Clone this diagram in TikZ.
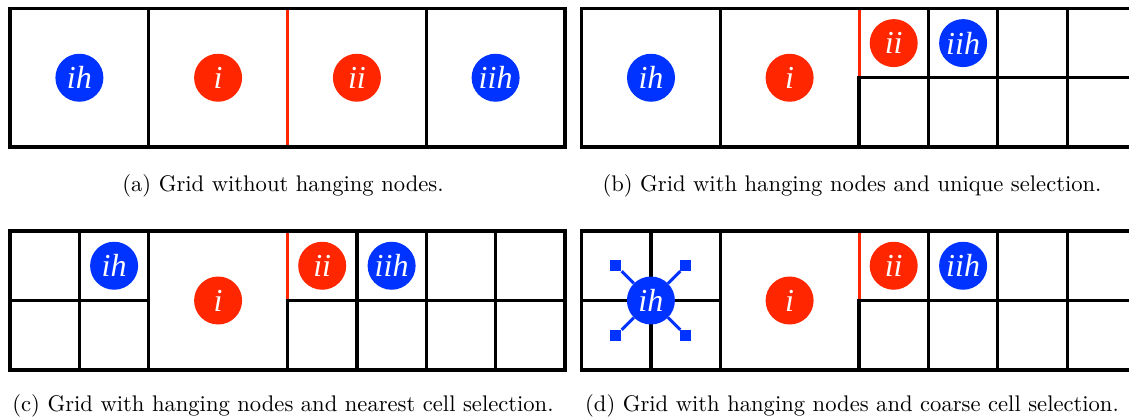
\documentclass[tikz,border=0pt]{standalone}
\usepackage{fontspec}
\usepackage{graphicx}
\newfontfamily\labfont{Liberation Serif}
\definecolor{hblue}{RGB}{0,51,255}
\definecolor{hred}{RGB}{255,38,0}
\tikzset{
  gridline/.style={line width=3.2pt, black, line cap=rect},
  gridbox/.style={line width=3.2pt, black},
  redline/.style={line width=3pt, hred},
  lab/.style={circle, inner sep=0pt, minimum size=48pt, text=white,
    font=\labfont\itshape\fontsize{32}{32}\selectfont},
  bl/.style={lab, fill=hblue},
  rd/.style={lab, fill=hred},
  captext/.style={anchor=base, inner sep=0pt},
  sq/.style={rectangle, fill=hblue, inner sep=0pt, minimum size=11pt},
  conn/.style={hblue, line width=3pt}
}
\begin{document}
\begin{tikzpicture}[x=1pt,y=-1pt]
\useasboundingbox (0,0) rectangle (1129,416);
\clip (0,0) rectangle (1129,416);
% ---------- panel (a)
\draw[redline] (287.5,8.5) -- (287.5,147);
\draw[gridbox] (10,8.5) rectangle (565,147);
\foreach \x in {148.75,426.25} \draw[gridline] (\x,8.5) -- (\x,147);
\node[bl] (aih) at (79.4,77.75) {ih};
\node[rd] (ai) at (218.1,77.75) {i};
\node[rd] (aii) at (356.9,77.75) {ii};
\node[bl] (aiih) at (495.6,77.75) {iih};
% ---------- panel (b)
\draw[redline] (859,8.5) -- (859,77.75);
\draw[gridbox] (581.5,8.5) rectangle (1136.5,147);
\foreach \x in {720.25,928.4,997.75,1067.1} \draw[gridline] (\x,8.5) -- (\x,147);
\draw[gridline] (859,77.75) -- (859,147);
\draw[gridline] (859,77.75) -- (1136.5,77.75);
\node[bl] (bih) at (651,77.75) {ih};
\node[rd] (bi) at (789.6,77.75) {i};
\node[rd] (bii) at (893.7,43.1) {ii};
\node[bl] (biih) at (963.1,43.1) {iih};
% ---------- panel (c)
\draw[redline] (287.5,231) -- (287.5,300.5);
\draw[gridbox] (10,231) rectangle (565,370);
\foreach \x in {79.4,148.75,356.9,426.25,495.6} \draw[gridline] (\x,231) -- (\x,370);
\draw[gridline] (287.5,300.5) -- (287.5,370);
\draw[gridline] (10,300.5) -- (148.75,300.5);
\draw[gridline] (287.5,300.5) -- (565,300.5);
\node[bl] (cih) at (114.1,265.75) {ih};
\node[rd] (ci) at (218.1,300.5) {i};
\node[rd] (cii) at (322.2,265.75) {ii};
\node[bl] (ciih) at (391.6,265.75) {iih};
% ---------- panel (d)
\draw[redline] (859,231) -- (859,300.5);
\draw[gridbox] (581.5,231) rectangle (1136.5,370);
\foreach \x in {650.9,720.25,928.4,997.75,1067.1} \draw[gridline] (\x,231) -- (\x,370);
\draw[gridline] (859,300.5) -- (859,370);
\draw[gridline] (581.5,300.5) -- (720.25,300.5);
\draw[gridline] (859,300.5) -- (1136.5,300.5);
\node[sq] (s1) at (615.9,265.5) {};
\node[sq] (s2) at (685.9,265.5) {};
\node[sq] (s3) at (615.9,335.5) {};
\node[sq] (s4) at (685.9,335.5) {};
\node[bl] (dih) at (650.9,300.5) {ih};
\foreach \s in {s1,s2,s3,s4} \draw[conn] (dih) -- (\s);
\node[rd] (di) at (789.6,300.5) {i};
\node[rd] (dii) at (893.7,265.75) {ii};
\node[bl] (diih) at (963.1,265.75) {iih};
% ---------- captions
\node[captext] (capa) at (283,191) {\scalebox{2.26}{(a) Grid without hanging nodes.}};
\node[captext] (capb) at (852,191) {\scalebox{2.26}{(b) Grid with hanging nodes and unique selection.}};
\node[captext] (capc) at (283,411) {\scalebox{2.26}{(c) Grid with hanging nodes and nearest cell selection.}};
\node[captext] (capd) at (852,411) {\scalebox{2.26}{(d) Grid with hanging nodes and coarse cell selection.}};
\end{tikzpicture}
\end{document}
